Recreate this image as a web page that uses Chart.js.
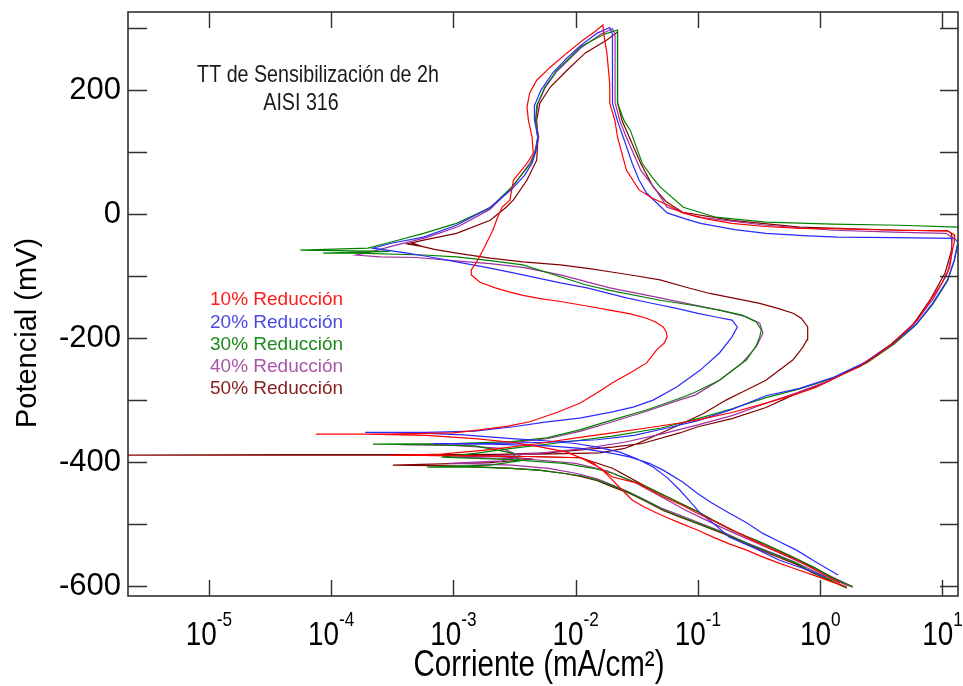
<!DOCTYPE html>
<html><head><meta charset="utf-8">
<script src="https://cdn.jsdelivr.net/npm/chart.js@4/dist/chart.umd.min.js"></script>
<style>html,body{margin:0;padding:0;background:#fff}#wrap{width:963px;height:686px}</style>
</head><body><div id="wrap"><canvas id="c" width="963" height="686"></canvas></div>
<script>
// ---- DATA: [corriente (mA/cm²), potencial (mV)] along each scan ----
const seriesLabels = ['10% Reducción','20% Reducción','30% Reducción','40% Reducción','50% Reducción'];
const xTickValues = [1e-5,1e-4,1e-3,1e-2,1e-1,1,10];
const xTickExponents = ['-5','-4','-3','-2','-1','0','1'];
const yTickValues = [-600,-500,-400,-300,-200,-100,0,100,200,300];
const annotationLines = ['TT de Sensibilización de 2h','AISI 316'];
const xTitle = 'Corriente (mA/cm²)';
const yTitle = 'Potencial (mV)';

const red10 = [
[1.65,-601],[1.2,-592],[0.87,-582],[0.62,-572],[0.46,-563],[0.33,-552],[0.25,-542],[0.18,-532],[0.133,-521],[0.1,-510],[0.071,-498],[0.055,-489],[0.046,-482],[0.036,-472],[0.029,-461],[0.024,-445],[0.02,-429],[0.017,-415],[0.014,-402],[0.0085,-384],[0.005,-375],[0.003,-368],[0.0015,-362],[0.0006,-357],[0.0002,-355],[0.000075,-355],
[0.0003,-355],[0.001,-353],[0.00165,-348],[0.0028,-342],[0.0042,-335],[0.007,-320],[0.0108,-305],[0.015,-288],[0.02,-272],[0.028,-256],[0.038,-240],[0.046,-219],[0.053,-208],[0.056,-198],[0.055,-190],[0.052,-182],[0.045,-174],[0.038,-168],[0.028,-161],[0.019,-155],[0.013,-149],[0.0075,-141],[0.005,-136],[0.0037,-131],[0.0028,-125],[0.0022,-119],[0.00165,-110],[0.0014,-98],[0.0014,-90],[0.00155,-77],[0.0018,-53],[0.0021,-26],[0.0023,-5],[0.0025,11],[0.0029,23],[0.0031,55],[0.004,82],[0.0045,98],[0.0044,124],[0.0041,152],[0.004,173],[0.0042,195],[0.0048,216],[0.0062,237],[0.0085,260],[0.0115,281],[0.0145,295],[0.0167,305],
[0.017,290],[0.018,260],[0.019,210],[0.019,179],[0.021,150],[0.022,124],[0.026,71],[0.033,39],[0.042,26],[0.052,18],[0.075,2],[0.12,-8],[0.19,-15],[0.35,-20],[0.68,-23],[1.5,-24],[4.5,-26],[11,-27],[12.6,-34],[12.5,-45],[12,-60],[11.5,-85],[10,-110],[8.3,-134],[6.2,-171],[4,-208],[2.8,-230],[2.1,-246],[1.4,-262],[0.93,-279],[0.6,-292],[0.36,-305],[0.19,-320],[0.1,-332],[0.071,-337],[0.038,-345],[0.02,-353],[0.0108,-360],[0.005,-370],[0.002,-380],[0.0008,-387],[0.0003,-389],
[0.0015,-390],[0.004,-391],[0.011,-393],[0.016,-410],[0.02,-424],[0.032,-434],[0.052,-456],[0.075,-470],[0.098,-482],[0.16,-502],[0.25,-521],[0.4,-540],[0.64,-558],[1,-578],[1.45,-595]
];

const blue20 = [
[1.1,-585],[0.8,-574],[0.6,-566],[0.46,-558],[0.3,-540],[0.18,-521],[0.14,-502],[0.104,-482],[0.085,-462],[0.071,-445],[0.056,-425],[0.043,-408],[0.032,-395],[0.023,-384],[0.015,-376],[0.01,-370],[0.006,-366],[0.003,-362],[0.0012,-356],[0.0005,-353],[0.00019,-352],
[0.0006,-352],[0.0015,-350],[0.0031,-343],[0.0058,-335],[0.0108,-329],[0.02,-319],[0.03,-311],[0.043,-300],[0.067,-279],[0.104,-252],[0.15,-224],[0.19,-198],[0.21,-182],[0.19,-171],[0.14,-166],[0.1,-160],[0.067,-152],[0.04,-143],[0.026,-135],[0.0124,-119],[0.0075,-111],[0.0037,-98],[0.002,-87],[0.00106,-77],[0.0006,-68],[0.00042,-63],[0.00022,-55],[0.00031,-47],[0.00057,-37],[0.00106,-18],[0.002,11],[0.003,40],[0.0038,62],[0.0044,82],[0.0047,100],[0.0049,124],[0.0046,152],[0.0046,175],[0.0052,200],[0.0065,228],[0.0085,252],[0.011,272],[0.015,292],[0.019,301],
[0.02,290],[0.02,240],[0.02,179],[0.022,150],[0.0245,124],[0.029,82],[0.033,55],[0.038,34],[0.045,20],[0.056,2],[0.08,-8],[0.105,-15],[0.2,-25],[0.36,-31],[0.8,-35],[1.4,-37],[4,-38],[12.5,-39],[13.4,-45],[12.5,-74],[11,-106],[8.3,-144],[6.2,-176],[4,-208],[2.4,-238],[1.3,-263],[0.68,-281],[0.36,-293],[0.19,-315],[0.1,-333],[0.056,-345],[0.03,-357],[0.015,-364],[0.006,-368],[0.002,-370],[0.00068,-370],
[0.002,-371],[0.006,-374],[0.011,-378],[0.02,-386],[0.028,-392],[0.04,-402],[0.052,-413],[0.075,-432],[0.098,-450],[0.13,-466],[0.18,-482],[0.25,-498],[0.34,-515],[0.46,-528],[0.64,-542],[0.9,-560],[1.4,-582]
];

const green30 = [
[1.65,-603],[1.2,-590],[0.87,-578],[0.64,-563],[0.4,-547],[0.25,-531],[0.16,-514],[0.098,-498],[0.07,-487],[0.052,-477],[0.038,-463],[0.028,-450],[0.02,-438],[0.015,-429],[0.011,-422],[0.0079,-418],[0.005,-413],[0.003,-410],[0.0015,-408],[0.00061,-408],
[0.002,-405],[0.0035,-398],[0.003,-385],[0.0015,-374],[0.0006,-372],[0.00022,-371],
[0.001,-370],[0.003,-367],[0.0058,-361],[0.0108,-348],[0.02,-332],[0.038,-316],[0.071,-297],[0.091,-289],[0.15,-268],[0.25,-235],[0.3,-212],[0.32,-198],[0.33,-187],[0.3,-174],[0.23,-163],[0.15,-155],[0.09,-147],[0.049,-139],[0.019,-123],[0.012,-114],[0.0075,-101],[0.0037,-82],[0.002,-75],[0.00106,-69],[0.00057,-66],[0.00016,-63],[0.000086,-63],[0.0003,-60],[0.000056,-58],[0.0002,-55],[0.00031,-45],[0.00057,-31],[0.00106,-15],[0.002,10],[0.003,44],[0.0043,82],[0.0046,98],[0.0049,124],[0.0047,150],[0.0048,175],[0.0056,205],[0.007,232],[0.011,270],[0.017,290],[0.022,297],
[0.022,290],[0.022,250],[0.022,179],[0.025,150],[0.028,135],[0.035,82],[0.042,60],[0.049,44],[0.076,11],[0.14,-5],[0.36,-13],[1.27,-16],[4.5,-18],[13.3,-21],[14,-30],[13.5,-42],[12.5,-75],[11,-108],[8.3,-146],[6,-180],[4,-210],[2.4,-240],[1.3,-264],[0.68,-282],[0.36,-296],[0.19,-314],[0.1,-330],[0.05,-345],[0.02,-358],[0.008,-368],[0.003,-378],[0.0015,-386],[0.0008,-392],
[0.003,-396],[0.008,-402],[0.014,-410],[0.02,-418],[0.038,-440],[0.071,-466],[0.1,-480],[0.133,-494],[0.2,-512],[0.34,-531],[0.55,-550],[0.87,-569],[1.3,-588],[1.85,-601]
];

const purple40 = [
[1.75,-600],[1.2,-588],[0.87,-575],[0.6,-560],[0.4,-546],[0.25,-530],[0.16,-513],[0.1,-497],[0.07,-485],[0.05,-474],[0.036,-460],[0.027,-448],[0.02,-437],[0.015,-427],[0.01,-418],[0.006,-410],[0.003,-405],[0.0015,-403],[0.00093,-402],
[0.0025,-398],[0.0035,-390],[0.0025,-378],[0.001,-373],[0.00037,-372],
[0.0012,-371],[0.003,-369],[0.006,-362],[0.011,-350],[0.02,-335],[0.038,-318],[0.07,-300],[0.095,-292],[0.15,-268],[0.23,-240],[0.3,-214],[0.34,-192],[0.32,-176],[0.25,-166],[0.15,-155],[0.09,-146],[0.049,-135],[0.019,-119],[0.0075,-98],[0.0037,-86],[0.002,-80],[0.001,-75],[0.0005,-70],[0.00025,-69],[0.00016,-66],[0.0002,-62],[0.00031,-52],[0.0006,-38],[0.0011,-20],[0.002,8],[0.003,42],[0.0042,82],[0.0047,100],[0.005,124],[0.0047,152],[0.0049,177],[0.0056,203],[0.007,230],[0.011,268],[0.016,290],[0.02,299],
[0.021,290],[0.021,240],[0.021,180],[0.023,150],[0.026,124],[0.034,71],[0.045,40],[0.056,11],[0.1,-5],[0.36,-18],[1.3,-26],[4,-29],[10.7,-31],[11.8,-37],[12,-60],[11,-95],[8.5,-135],[6,-175],[4,-208],[2.2,-243],[1.2,-268],[0.65,-288],[0.36,-305],[0.19,-325],[0.1,-340],[0.05,-355],[0.025,-368],[0.012,-378],[0.005,-386],[0.002,-390],[0.001,-392],
[0.004,-395],[0.01,-402],[0.018,-414],[0.03,-432],[0.05,-456],[0.08,-478],[0.13,-498],[0.2,-515],[0.34,-535],[0.55,-553],[0.9,-572],[1.4,-590],[1.85,-602]
];

const darkred50 = [
[1.65,-603],[1.2,-591],[0.87,-579],[0.64,-565],[0.4,-549],[0.25,-532],[0.16,-515],[0.098,-499],[0.07,-488],[0.052,-478],[0.038,-464],[0.028,-451],[0.02,-440],[0.015,-430],[0.011,-423],[0.0079,-418],[0.005,-413],[0.003,-410],[0.001,-406],[0.00032,-405],
[0.002,-401],[0.0045,-395],[0.002,-390],[0.0003,-389],[0.0000015,-389],[0.000053,-388],[0.001,-388],[0.005,-387],[0.0158,-385],
[0.025,-378],[0.033,-369],[0.05,-353],[0.076,-337],[0.11,-322],[0.17,-300],[0.22,-289],[0.36,-268],[0.6,-235],[0.72,-215],[0.78,-203],[0.79,-182],[0.7,-168],[0.6,-160],[0.45,-152],[0.32,-144],[0.2,-136],[0.125,-128],[0.08,-118],[0.049,-106],[0.03,-99],[0.019,-93],[0.013,-88],[0.0075,-82],[0.0037,-77],[0.002,-71],[0.00106,-63],[0.0007,-57],[0.0005,-50],[0.00045,-46],[0.00055,-52],[0.00042,-48],[0.00057,-42],[0.00106,-31],[0.002,-10],[0.0027,11],[0.0031,23],[0.004,55],[0.0048,87],[0.0049,119],[0.0048,152],[0.0051,179],[0.0062,205],[0.0085,232],[0.012,260],[0.018,281],[0.022,294],
[0.022,290],[0.022,250],[0.022,180],[0.024,150],[0.026,135],[0.034,82],[0.043,44],[0.055,20],[0.075,3],[0.19,-10],[0.68,-21],[4.5,-26],[11,-27],[11.8,-31],[12,-38],[11.8,-60],[10.5,-95],[8,-137],[5.8,-177],[3.8,-210],[2.1,-245],[1.1,-272],[0.6,-292],[0.36,-312],[0.19,-330],[0.1,-343],[0.071,-353],[0.035,-370],[0.02,-376],[0.0058,-385],[0.002,-388],[0.0005,-389],
[0.004,-391],[0.011,-393],[0.02,-410],[0.038,-440],[0.071,-466],[0.1,-480],[0.133,-494],[0.2,-512],[0.34,-531],[0.55,-550],[0.87,-569],[1.3,-588],[1.85,-601]
];

const seriesData = [red10, blue20, green30, purple40, darkred50];
const lineColors = ['#ff0000','#2a2aff','#008000','#a030a0','#800000'];
const legendColors = ['#ff1a1a','#4a4ae0','#1a8a1a','#a855a8','#862020'];

const SANS = "'Liberation Sans',Arial,sans-serif";
const NARROW_SX = 0.82;

function narrowText(ctx, text, x, y, size, align, baseline) {
  ctx.save();
  ctx.translate(x, y);
  ctx.scale(NARROW_SX, 1);
  ctx.font = size + 'px ' + SANS;
  ctx.textAlign = align;
  ctx.textBaseline = baseline;
  ctx.fillText(text, 0, 0);
  ctx.restore();
}
function narrowWidth(ctx, text, size) {
  ctx.save();
  ctx.font = size + 'px ' + SANS;
  const w = ctx.measureText(text).width * NARROW_SX;
  ctx.restore();
  return w;
}

const decorPlugin = {
  id: 'decor',
  afterDraw(chart) {
    const {ctx, chartArea: a, scales: {x, y}} = chart;
    ctx.save();
    ctx.strokeStyle = '#303030';
    ctx.lineWidth = 1.6;
    ctx.strokeRect(a.left, a.top, a.right - a.left, a.bottom - a.top);
    ctx.lineWidth = 1.4;
    ctx.beginPath();
    xTickValues.forEach(v => {
      const px = Math.round(x.getPixelForValue(v)) + 0.5;
      ctx.moveTo(px, a.bottom); ctx.lineTo(px, a.bottom - 16);
      ctx.moveTo(px, a.top); ctx.lineTo(px, a.top + 16);
    });
    yTickValues.forEach(v => {
      const py = Math.round(y.getPixelForValue(v)) + 0.5;
      ctx.moveTo(a.left, py); ctx.lineTo(a.left + 19, py);
      ctx.moveTo(a.right, py); ctx.lineTo(a.right - 18, py);
    });
    ctx.stroke();
    // x tick labels 10^n
    ctx.fillStyle = '#000';
    xTickValues.forEach((v, i) => {
      const px = x.getPixelForValue(v);
      const wb = narrowWidth(ctx, '10', 34);
      const we = narrowWidth(ctx, xTickExponents[i], 21);
      const x0 = px - (wb + we) / 2;
      narrowText(ctx, '10', x0, 645, 34, 'left', 'alphabetic');
      narrowText(ctx, xTickExponents[i], x0 + wb, 626, 21, 'left', 'alphabetic');
    });
    // x axis title
    narrowText(ctx, xTitle, 539, 666, 36, 'center', 'middle');
    // y axis title
    ctx.save();
    ctx.translate(28, 333);
    ctx.rotate(-Math.PI / 2);
    ctx.textAlign = 'center';
    ctx.textBaseline = 'middle';
    ctx.font = '29px ' + SANS;
    ctx.fillText(yTitle, 0, 0);
    ctx.restore();
    // annotation
    ctx.fillStyle = '#1a1a1a';
    narrowText(ctx, annotationLines[0], 318, 75, 24, 'center', 'middle');
    narrowText(ctx, annotationLines[1], 301, 103, 24, 'center', 'middle');
    // legend
    ctx.textAlign = 'left';
    ctx.textBaseline = 'middle';
    ctx.font = '19px ' + SANS;
    seriesLabels.forEach((t, i) => {
      ctx.fillStyle = legendColors[i];
      ctx.fillText(t, 210, 300 + i * 22.3);
    });
    ctx.restore();
  }
};

new Chart(document.getElementById('c'), {
  type: 'scatter',
  data: {
    datasets: seriesData.map((d, i) => ({
      label: seriesLabels[i],
      data: d.map(p => ({x: p[0], y: p[1]})),
      showLine: true,
      borderColor: lineColors[i],
      backgroundColor: lineColors[i],
      borderWidth: 1.2,
      pointRadius: 0,
      tension: 0,
      fill: false
    }))
  },
  options: {
    responsive: false,
    animation: false,
    devicePixelRatio: 1,
    layout: {padding: {top: 12, right: 5, bottom: 0, left: 0}},
    plugins: {legend: {display: false}, tooltip: {enabled: false}},
    scales: {
      x: {
        type: 'logarithmic',
        min: 2.18e-6, max: 13.4,
        grid: {display: false, drawTicks: false},
        border: {display: false},
        ticks: {display: false},
        afterBuildTicks: s => { s.ticks = xTickValues.map(v => ({value: v})); },
        afterFit: s => { s.height = 90; s.paddingLeft = 0; s.paddingRight = 0; }
      },
      y: {
        type: 'linear',
        min: -616, max: 326,
        grid: {display: false, drawTicks: false},
        border: {display: false},
        afterBuildTicks: s => { s.ticks = yTickValues.map(v => ({value: v})); },
        afterFit: s => { s.width = 128; s.paddingTop = 0; s.paddingBottom = 0; },
        ticks: {
          autoSkip: false, padding: 7, color: '#000',
          font: {family: SANS, size: 31},
          callback: v => (v % 200 === 0 ? String(v) : '')
        }
      }
    }
  },
  plugins: [decorPlugin]
});
</script>
</body></html>
